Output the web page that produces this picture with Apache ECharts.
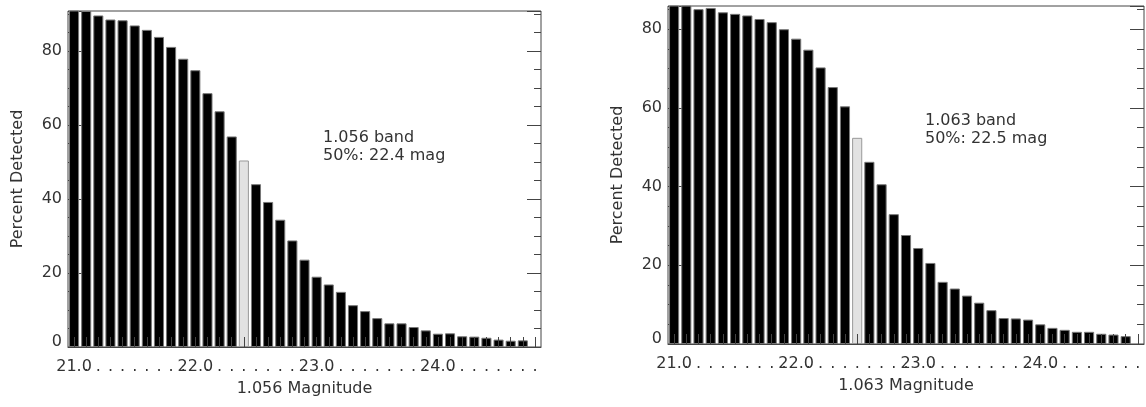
<!DOCTYPE html>
<html>
<head>
<meta charset="utf-8">
<script src="https://cdn.jsdelivr.net/npm/echarts@6/dist/echarts.min.js"></script>
<style>
  html, body { margin: 0; padding: 0; background: #fff; }
  #chart { width: 1146px; height: 407px; }
</style>
</head>
<body>
<div id="chart"></div>
<script>
// magnitude bins, 0.1 mag wide
const magnitudes = [
  '21.0', '21.1', '21.2', '21.3', '21.4', '21.5', '21.6', '21.7', '21.8', '21.9',
  '22.0', '22.1', '22.2', '22.3', '22.4', '22.5', '22.6', '22.7', '22.8', '22.9',
  '23.0', '23.1', '23.2', '23.3', '23.4', '23.5', '23.6', '23.7', '23.8', '23.9',
  '24.0', '24.1', '24.2', '24.3', '24.4', '24.5', '24.6', '24.7', '24.8',
]

// percent detected per bin
const detected1056 = [
  91.0, 90.8, 89.6, 88.5, 88.3, 86.9, 85.7, 83.8, 81.1, 77.9,
  74.8, 68.6, 63.7, 56.9, 50.4, 44.0, 39.2, 34.4, 28.8, 23.6,
  19.0, 16.9, 14.9, 11.3, 9.7, 7.8, 6.4, 6.4, 5.4, 4.5,
  3.6, 3.7, 2.9, 2.8, 2.5, 2.0, 1.7, 1.8,
]
const detected1063 = [
  86.3, 86.0, 85.1, 85.4, 84.3, 83.9, 83.5, 82.6, 81.8, 80.0,
  77.6, 74.8, 70.3, 65.3, 60.4, 52.4, 46.3, 40.6, 33.0, 27.7,
  24.4, 20.6, 15.8, 14.1, 12.3, 10.5, 8.6, 6.6, 6.5, 6.2,
  5.0, 4.1, 3.6, 3.1, 3.1, 2.6, 2.4, 2.0,
]

// 50% completeness bins (drawn grey)
const half1056 = '22.4'
const half1063 = '22.5'
const yMax1056 = 90.8
const yMax1063 = 85.9

const axisColor = '#444'
const textColor = '#333'
const fontFamily = 'DejaVu Sans'

function barData(values, half) {
  const halfIndex = magnitudes.indexOf(half)
  return values.map((v, i) =>
    i === halfIndex
      ? { value: v, itemStyle: { color: '#e2e2e2', borderColor: '#999' } }
      : v
  )
}

function xAxisFor(gridIndex, name) {
  return {
    type: 'category',
    gridIndex,
    data: magnitudes,
    z: 3,
    name,
    nameLocation: 'middle',
    nameGap: 34,
    nameTextStyle: { color: textColor, fontSize: 16, fontFamily },
    axisLine: { show: true, lineStyle: { color: axisColor } },
    axisTick: { show: true, inside: true, alignWithLabel: true, interval: 0, length: 10, lineStyle: { color: axisColor } },
    axisLabel: {
      interval: 0,
      margin: 12,
      color: textColor,
      fontSize: 16,
      fontFamily,
      formatter: (v) => (v.endsWith('.0') ? v : '.'),
    },
    splitLine: { show: false },
  }
}

// each side of a grid gets two stacked axes: long ticks every 20, short every 5
function yAxesFor(gridIndex, yMax, withName) {
  const base = {
    type: 'value',
    gridIndex,
    min: 0,
    max: yMax,
    axisLine: { show: false },
    splitLine: { show: false },
  }
  const tick = (length) => ({ show: true, inside: true, length, lineStyle: { color: axisColor, width: 1 } })
  return [
    Object.assign({}, base, {
      position: 'left',
      interval: 20,
      name: withName ? 'Percent Detected' : '',
      nameLocation: 'middle',
      nameRotate: 90,
      nameGap: 42,
      nameTextStyle: { color: textColor, fontSize: 16, fontFamily },
      axisTick: tick(14),
      axisLabel: {
        show: true,
        margin: 6,
        color: textColor,
        fontSize: 16,
        fontFamily,
        formatter: (v) => (v % 20 !== 0 ? '' : v === 0 ? '{z|0}' : String(v)),
        rich: { z: { color: textColor, fontSize: 16, fontFamily, padding: [0, 0, 10, 0] } },
      },
    }),
    Object.assign({}, base, {
      position: 'left',
      interval: 5,
      axisTick: tick(7),
      axisLabel: { show: false },
    }),
    Object.assign({}, base, {
      position: 'right',
      interval: 20,
      axisTick: tick(14),
      axisLabel: { show: false },
    }),
    Object.assign({}, base, {
      position: 'right',
      interval: 5,
      axisTick: tick(7),
      axisLabel: { show: false },
    }),
  ]
}

function barSeries(gridIndex, values, half) {
  return {
    type: 'bar',
    xAxisIndex: gridIndex,
    yAxisIndex: gridIndex * 4,
    data: barData(values, half),
    barWidth: '83%',
    itemStyle: { color: '#000', borderColor: '#777', borderWidth: 1 },
    silent: true,
    animation: false,
  }
}

const myChart = echarts.init(document.getElementById('chart'))

const option = {
  animation: false,
  backgroundColor: '#fff',
  grid: [
    { left: 68, top: 11, right: 605, bottom: 60, show: true, borderColor: axisColor, borderWidth: 1, outerBoundsMode: 'none' },
    { left: 668, top: 6, right: 2, bottom: 63, show: true, borderColor: axisColor, borderWidth: 1, outerBoundsMode: 'none' },
  ],
  xAxis: [
    xAxisFor(0, '1.056 Magnitude'),
    xAxisFor(1, '1.063 Magnitude'),
  ],
  yAxis: [
    ...yAxesFor(0, yMax1056, true),
    ...yAxesFor(1, yMax1063, true),
  ],
  series: [
    barSeries(0, detected1056, half1056),
    barSeries(1, detected1063, half1063),
  ],
  graphic: [
    {
      type: 'text', left: 323, top: 129,
      style: { text: '1.056 band\n50%: 22.4 mag', fill: textColor, fontSize: 16, fontFamily, lineHeight: 18 },
    },
    {
      type: 'text', left: 925, top: 112,
      style: { text: '1.063 band\n50%: 22.5 mag', fill: textColor, fontSize: 16, fontFamily, lineHeight: 18 },
    },
  ],
}

myChart.setOption(option)
</script>
</body>
</html>
